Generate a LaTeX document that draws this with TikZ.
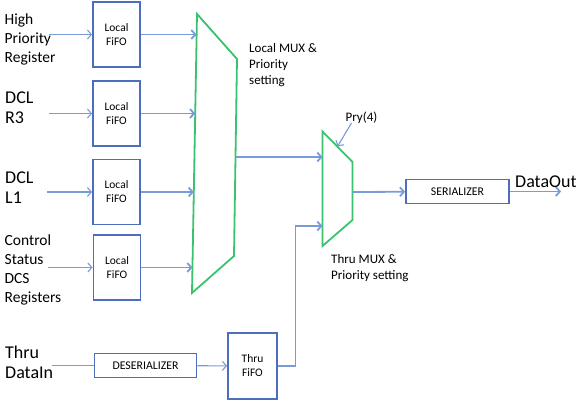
\documentclass[tikz,border=0pt]{standalone}
\usepackage{fontspec}
\setmainfont{Carlito}
\usetikzlibrary{arrows.meta}
\definecolor{boxblue}{RGB}{76,110,188}
\definecolor{wireblue}{RGB}{122,156,214}
\definecolor{muxgreen}{RGB}{58,194,110}
\begin{document}
\begin{tikzpicture}[x=1pt, y=-1pt,
  >={Straight Barb[length=4pt,width=9pt]},
  fifo/.style={draw=boxblue, line width=1.8pt, minimum width=47pt, minimum height=65pt, inner sep=0pt, align=center, font=\fontsize{11.5}{14}\selectfont},
  serbox/.style={draw=boxblue, line width=1.8pt, minimum height=24pt, inner sep=0pt, font=\fontsize{11.8}{13}\selectfont},
  wire/.style={->, wireblue, line width=1.1pt},
  bus/.style={->, wireblue, line width=1.8pt},
  mux/.style={draw=muxgreen, line width=1.8pt},
  biglabel/.style={align=left, inner sep=0pt, font=\fontsize{18}{20}\selectfont},
  midlabel/.style={align=left, inner sep=0pt, font=\fontsize{15.5}{19}\selectfont},
  muxlabel/.style={align=left, inner sep=0pt, font=\fontsize{13}{16.3}\selectfont}]
  \useasboundingbox (0,0) rectangle (587,400);
  % input labels
  \node[midlabel, anchor=west] (hpr) at (4.5,39) {High\\Priority\\Register};
  \node[biglabel, anchor=west] (r3) at (5,108) {DCL\\R3};
  \node[biglabel, anchor=west] (l1) at (5,188) {DCL\\L1};
  \node[midlabel, anchor=west] (dcs) at (4.5,270) {Control\\Status\\DCS\\Registers};
  \node[biglabel, anchor=west] (thruin) at (5,362) {Thru\\DataIn};
  % local fifos
  \node[fifo] (fifo1) at (116.5,34.5) {Local\\FiFO};
  \node[fifo] (fifo2) at (116.5,113.5) {Local\\FiFO};
  \node[fifo] (fifo3) at (116.5,192) {Local\\FiFO};
  \node[fifo] (fifo4) at (117,267.5) {Local\\FiFO};
  % inputs into the fifos
  \coordinate (src1) at (49,34.5);
  \coordinate (src2) at (49,113.5);
  \coordinate (src3) at (47,192);
  \coordinate (src4) at (48,267.5);
  \draw[wire] (src1) -- (fifo1);
  \draw[wire] (src2) -- (fifo2);
  \draw[wire] (src3) -- (fifo3);
  \draw[wire] (src4) -- (fifo4);
  % local mux
  \coordinate (lm1) at (197,14);
  \coordinate (lm2) at (237,59);
  \coordinate (lm3) at (234,256);
  \coordinate (lm4) at (192,293);
  \draw[mux] (lm1) -- (lm2) -- (lm3) -- (lm4) -- cycle;
  \node[muxlabel, anchor=north west] (lmlabel) at (249,43) {Local MUX \&\\Priority\\setting};
  \coordinate (lmin1) at (196.5,34.5);
  \coordinate (lmin2) at (195.2,113.5);
  \coordinate (lmin3) at (193.8,192);
  \coordinate (lmin4) at (192.5,267.5);
  \draw[bus] (fifo1) -- (lmin1);
  \draw[bus] (fifo2) -- (lmin2);
  \draw[bus] (fifo3) -- (lmin3);
  \draw[bus] (fifo4) -- (lmin4);
  \coordinate (lmout) at (235.5,157);
  % thru mux
  \coordinate (tm1) at (322.5,131.5);
  \coordinate (tm2) at (352.5,162);
  \coordinate (tm3) at (352.5,220);
  \coordinate (tm4) at (322.5,246);
  \draw[mux] (tm1) -- (tm2) -- (tm3) -- (tm4) -- cycle;
  \node[muxlabel, anchor=north west] (tmlabel) at (331,254) {Thru MUX \&\\Priority setting};
  \coordinate (tmin1) at (322.5,157);
  \coordinate (tmin2) at (322.5,226);
  \coordinate (tmtop) at (337.5,146.5);
  \coordinate (tmout) at (352.5,192);
  \draw[bus] (lmout) -- (tmin1);
  \node[muxlabel, anchor=center] (pry) at (361.5,118) {Pry(4)};
  \draw[wire] ([xshift=6pt,yshift=1pt]pry.south west) -- (tmtop);
  % serializer and output
  \node[serbox, minimum width=103pt] (ser) at (457.5,191.5) {SERIALIZER};
  \draw[bus] (tmout) -- (ser);
  \coordinate (dout) at (561,191.5);
  \draw[bus] (ser) -- (dout);
  \node[biglabel, anchor=base west] (doutlabel) at (515,187) {DataOut};
  % thru path
  \node[serbox, minimum width=102pt] (deser) at (145.5,365.5) {DESERIALIZER};
  \node[fifo, minimum width=49pt, minimum height=66pt] (thrufifo) at (252.5,366) {Thru\\FiFO};
  \coordinate (thrusrc) at (52,365.5);
  \draw[wireblue, line width=1.1pt] (thrusrc) -- (deser);
  \draw[wire] (deser) -- (thrufifo);
  \draw[bus] (thrufifo.east) -- ++(17.5,0) |- (tmin2);
\end{tikzpicture}
\end{document}
